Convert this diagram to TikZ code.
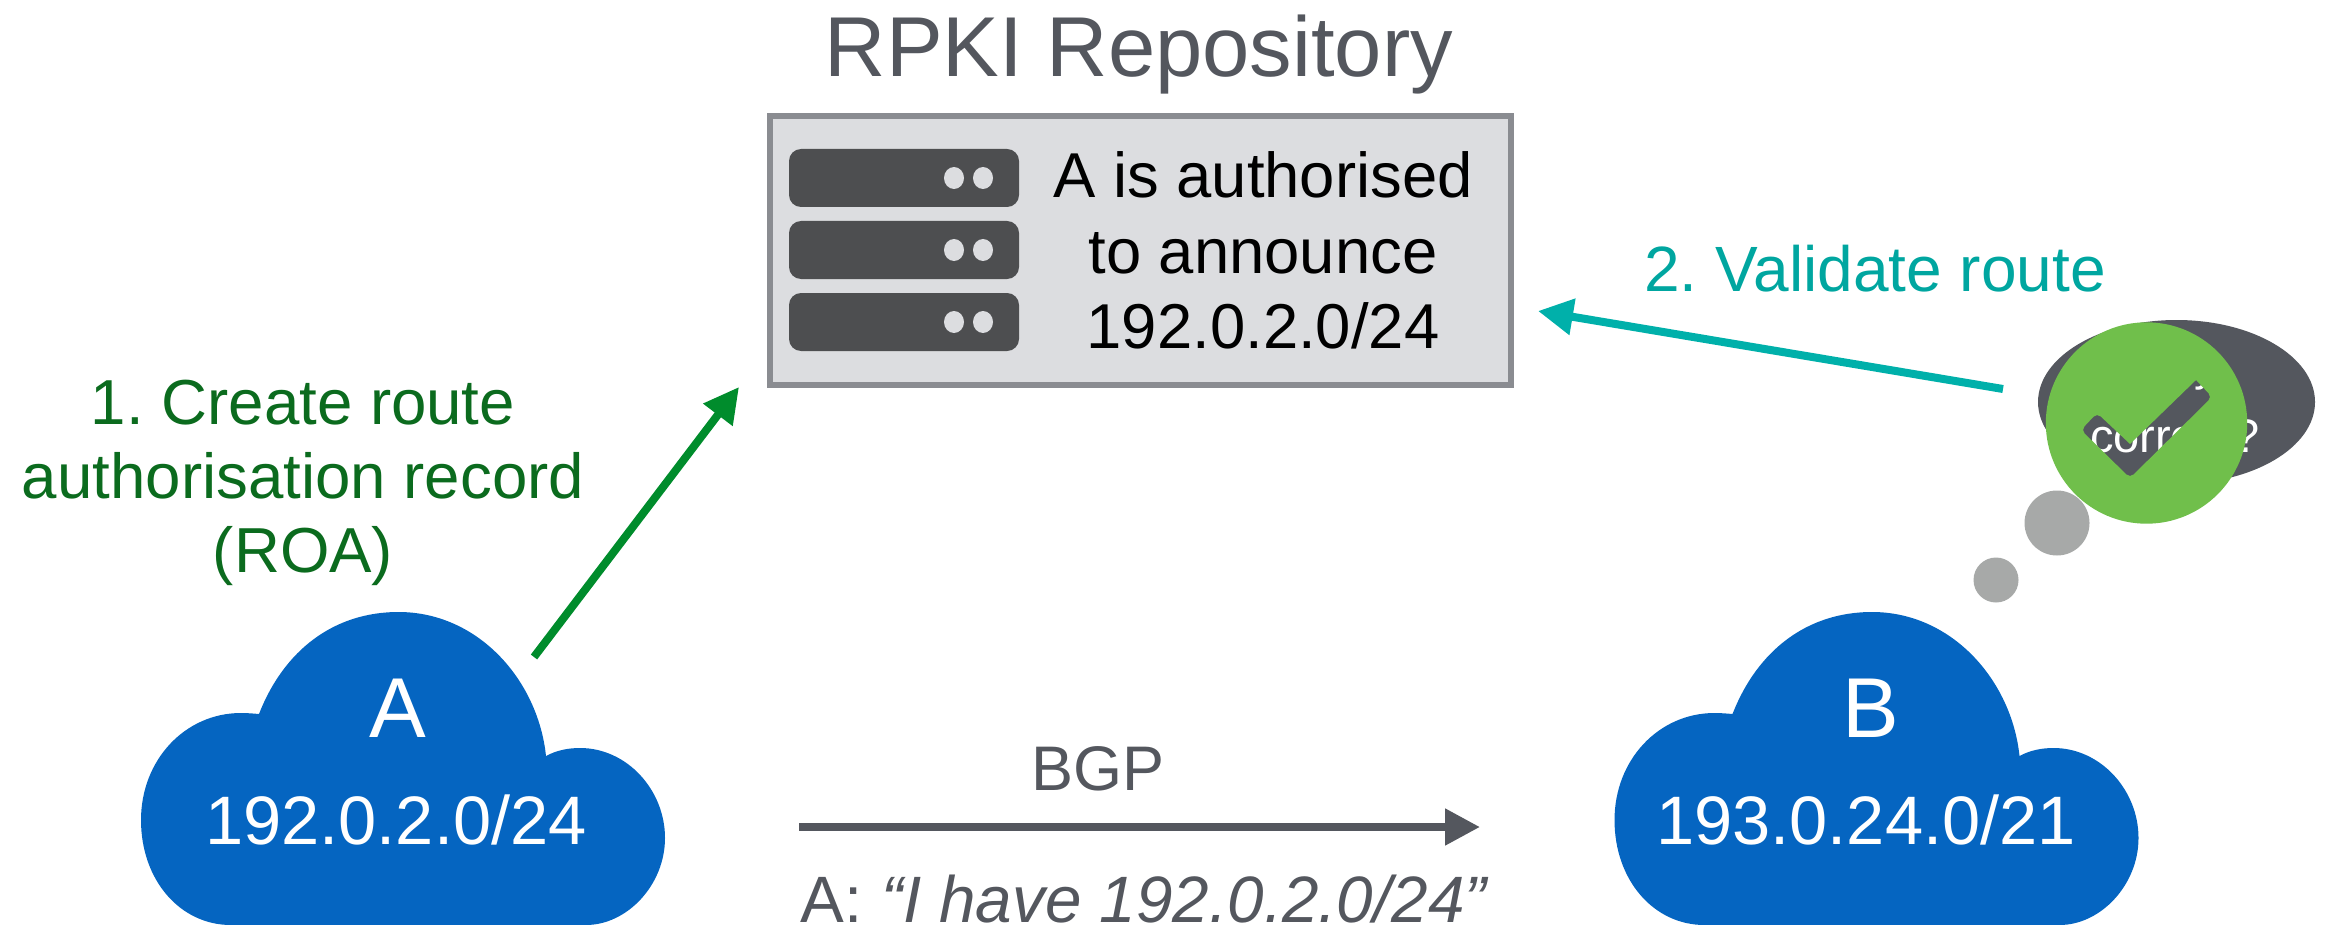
\documentclass[tikz,border=0pt]{standalone}
\usepackage{fontspec}
\setmainfont{Liberation Sans}
\usetikzlibrary{arrows.meta,shapes.geometric}
\definecolor{slategray}{HTML}{54575E}
\definecolor{cloudblue}{HTML}{0565C1}
\definecolor{boxfill}{HTML}{DCDDE0}
\definecolor{boxline}{HTML}{8A8C91}
\definecolor{serverdark}{HTML}{4D4E50}
\definecolor{tealc}{HTML}{00B0AA}
\definecolor{tealtext}{HTML}{00A6A0}
\definecolor{arrowgreen}{HTML}{008C2C}
\definecolor{textgreen}{HTML}{0B6B1E}
\definecolor{tickgreen}{HTML}{70BF4B}
\definecolor{bubblegray}{HTML}{A7A9A8}
\newcommand{\fsz}[1]{\fontsize{#1}{#1}\selectfont\frenchspacing}
\newcommand{\cloudshape}[1]{%
  \fill[cloudblue,shift={(#1,0)}] (259,714)
    .. controls (284,650) and (334,612) .. (398.5,612)
    .. controls (478,612) and (538,680) .. (546,756)
    .. controls (557,750) and (569,748) .. (580,748)
    .. controls (627,748) and (665,790) .. (665,838)
    .. controls (665,885) and (627,925) .. (586,925)
    -- (231,925)
    .. controls (180,925) and (141,880) .. (141,820)
    .. controls (141,760) and (185,713) .. (241,713)
    .. controls (247,713) and (253,713.5) .. (259,714) -- cycle;}
\tikzset{
  lbl/.style={inner sep=0pt,outer sep=0pt,anchor=base,align=center},
  serverbox/.style={fill=serverdark,rounded corners=6pt,inner sep=0pt,minimum width=115pt,minimum height=29pt},
  serverdot/.style={fill=boxfill,ellipse,inner sep=0pt,minimum width=10pt,minimum height=11pt},
  flow/.style={line width=4pt,-{Triangle[length=17.5pt,width=17.5pt]}},
}
\begin{document}
\begin{tikzpicture}[x=0.5pt,y=-0.5pt]
\useasboundingbox (0,0) rectangle (2332,925);
% title
\node[lbl,text=slategray,font=\fsz{42.5}] (title) at (1139,77) {RPKI Repository};
% repository box
\node[draw=boxline,fill=boxfill,line width=3pt,inner sep=0pt,minimum width=370.5pt,minimum height=134pt] (repo) at (1140.5,250.5) {};
\node[serverbox] (s1) at (904,178) {};
\node[serverbox] (s2) at (904,250) {};
\node[serverbox] (s3) at (904,322) {};
\node[serverdot] (d1a) at (954,178) {};
\node[serverdot] (d1b) at (983,178) {};
\node[serverdot] (d2a) at (954,250) {};
\node[serverdot] (d2b) at (983,250) {};
\node[serverdot] (d3a) at (954,322) {};
\node[serverdot] (d3b) at (983,322) {};
\node[lbl,font=\fsz{31.7}] (rl1) at (1263,198) {A is authorised};
\node[lbl,font=\fsz{31.7}] (rl2) at (1263,273) {to announce};
\node[lbl,font=\fsz{31.7}] (rl3) at (1263,348) {192.0.2.0/24};
% clouds
\cloudshape{0}
\cloudshape{1473.5}
\node[lbl,text=white,font=\fsz{42.5}] (na) at (398,737) {A};
\node[lbl,text=white,font=\fsz{34.3}] (pa) at (396,844) {192.0.2.0/24};
\node[lbl,text=white,font=\fsz{42.5}] (nb) at (1871,737) {B};
\node[lbl,text=white,font=\fsz{34.3}] (pb) at (1866,844) {193.0.24.0/21};
% labels
\node[lbl,text=textgreen,font=\fsz{31.8}] (c1) at (303,424) {1. Create route};
\node[lbl,text=textgreen,font=\fsz{31.8}] (c2) at (303,498) {authorisation record};
\node[lbl,text=textgreen,font=\fsz{31.8}] (c3) at (303,572) {(ROA)};
\node[lbl,text=tealtext,font=\fsz{32}] (v) at (1875,292) {2. Validate route};
\node[lbl,text=slategray,font=\fsz{31.5}] (bgp) at (1098,790) {BGP};
\node[lbl,text=slategray,font=\fsz{32.8}] (ann) at (1145,922) {A: \textit{“I have 192.0.2.0/24”}};
% arrows
\coordinate (a1s) at (534,657);
\coordinate (a1e) at (739,387);
\coordinate (a2s) at (2003,389);
\coordinate (a2e) at (1538,311);
\coordinate (a3s) at (799,827);
\coordinate (a3e) at (1480,827);
\draw[flow,arrowgreen] (a1s) -- (a1e);
\draw[flow,tealc] (a2s) -- (a2e);
\draw[flow,slategray] (a3s) -- (a3e);
% thought bubble
\node[fill=bubblegray,circle,inner sep=0pt,minimum size=22.5pt] (b1) at (1996,580) {};
\node[fill=bubblegray,circle,inner sep=0pt,minimum size=32.5pt] (b2) at (2057,523) {};
\node[fill=slategray,ellipse,inner sep=0pt,minimum width=138.5pt,minimum height=82pt] (th) at (2176.5,402) {};
\node[lbl,text=white,font=\fsz{23.5},anchor=base west] (q) at (2090,452) {correct?};
\node[lbl,text=white,font=\fsz{23.5}] (qy) at (2206,380) {y};
\fill[tickgreen,even odd rule] (2146.5,423) circle [radius=50.35pt]
  [rounded corners=2.5pt] (2196,380) -- (2212,397) -- (2130,478) -- (2081,430) -- (2097,413) [sharp corners] -- (2130,444) -- cycle;
\end{tikzpicture}
\end{document}
